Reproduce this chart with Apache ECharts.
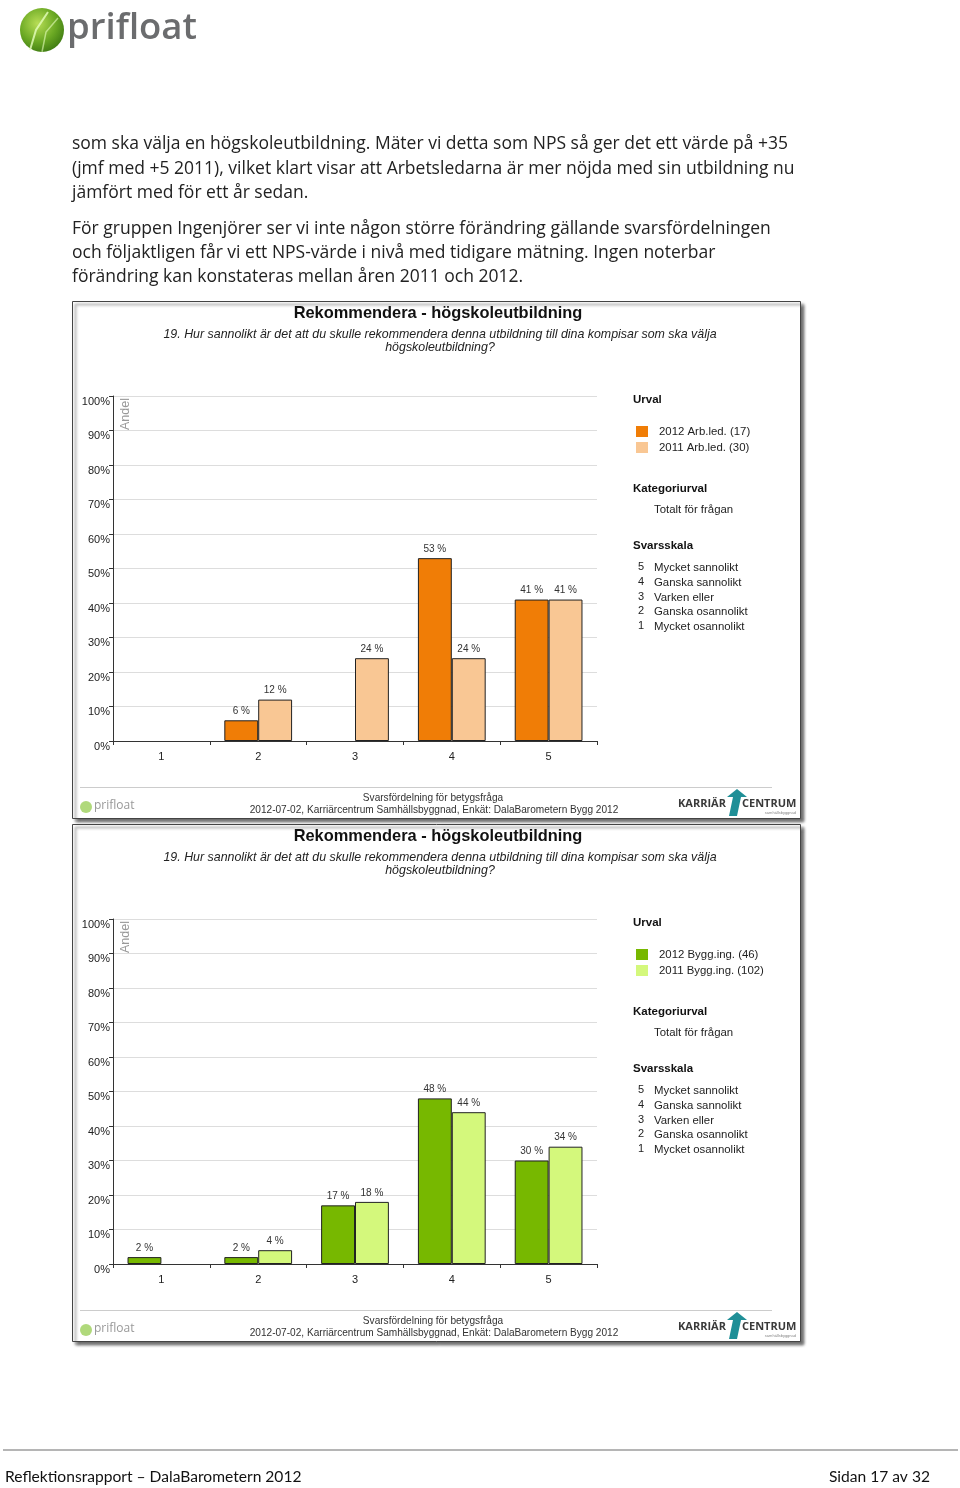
<!DOCTYPE html>
<html><head><meta charset="utf-8">
<script src="https://cdn.jsdelivr.net/npm/echarts@6/dist/echarts.min.js"></script>
<style>html,body{margin:0;padding:0;background:#fff}#c{width:960px;height:1488px}</style>
</head><body><div id="c"></div>
<script>
// ---- data ----
const categories = ['1','2','3','4','5'];
const yTicks = [0,10,20,30,40,50,60,70,80,90,100];
const chart1Name2012 = '2012 Arb.led. (17)';
const chart1Name2011 = '2011 Arb.led. (30)';
const chart1Values2012 = [null, 6, null, 53, 41];
const chart1Values2011 = [null, 12, 24, 24, 41];
const chart2Name2012 = '2012 Bygg.ing. (46)';
const chart2Name2011 = '2011 Bygg.ing. (102)';
const chart2Values2012 = [2, 2, 17, 48, 30];
const chart2Values2011 = [null, 4, 18, 44, 34];
const scaleLabels = [['5','Mycket sannolikt'],['4','Ganska sannolikt'],['3','Varken eller'],['2','Ganska osannolikt'],['1','Mycket osannolikt']];
const bodyLines = [
 'som ska välja en högskoleutbildning. Mäter vi detta som NPS så ger det ett värde på +35',
 '(jmf med +5 2011), vilket klart visar att Arbetsledarna är mer nöjda med sin utbildning nu',
 'jämfört med för ett år sedan.',
 'För gruppen Ingenjörer ser vi inte någon större förändring gällande svarsfördelningen',
 'och följaktligen får vi ett NPS-värde i nivå med tidigare mätning. Ingen noterbar',
 'förändring kan konstateras mellan åren 2011 och 2012.'
];
const chartTitle = 'Rekommendera - högskoleutbildning';
const chartSub1 = '19. Hur sannolikt är det att du skulle rekommendera denna utbildning till dina kompisar som ska välja';
const chartSub2 = 'högskoleutbildning?';
const footA = 'Svarsfördelning för betygsfråga';
const footB = '2012-07-02, Karriärcentrum Samhällsbyggnad, Enkät: DalaBarometern Bygg 2012';

// ---- helpers ----
const AR = '"Liberation Sans", Arial, sans-serif';
function T(text, x, y, size, opts) {
  opts = opts || {};
  return { type: 'text', z: opts.z || 5, rotation: opts.rotation || 0, x: x, y: y,
    style: { text: text, x: 0, y: 0, fill: opts.fill || '#222',
      font: (opts.style || '') + ' ' + (opts.weight || 'normal') + ' ' + size + 'px ' + (opts.family || AR),
      textAlign: opts.align || 'left', textVerticalAlign: 'middle' } };
}
const els = [];
// top logo
els.push({ type: 'circle', shape: { cx: 42, cy: 30, r: 22 }, z: 5,
  style: { fill: { type: 'radial', x: 0.4, y: 0.35, r: 0.7, colorStops: [{offset:0,color:'#b7dd55'},{offset:0.6,color:'#6aa823'},{offset:1,color:'#3d7a12'}] } } });
els.push({ type: 'polyline', z: 6, shape: { points: [[30,50],[36,30],[48,12]] }, style: { stroke: 'rgba(230,255,190,0.8)', lineWidth: 2, fill: null } });
els.push({ type: 'polyline', z: 6, shape: { points: [[42,52],[46,32],[58,18]] }, style: { stroke: 'rgba(230,255,190,0.6)', lineWidth: 1.5, fill: null } });
els.push(T('prifloat', 67, 29, 36.5, { fill: '#6b6c6e', weight: '600', family: '"Open Sans", sans-serif' }));
// body text
const bodyY = [144, 169, 193, 229, 253, 277];
bodyLines.forEach((l, i) => els.push(T(l, 72, bodyY[i], 17.5, { fill: '#222', family: '"Open Sans", sans-serif' })));

function panel(top, name12, name11, c12, c11) {
  els.push({ type: 'rect', z: -10, shape: { x: 72.5, y: top + 0.5, width: 728, height: 517 },
    style: { fill: '#fff', stroke: '#444', lineWidth: 1, shadowBlur: 3, shadowOffsetX: 3, shadowOffsetY: 3, shadowColor: 'rgba(0,0,0,0.6)' } });
  els.push(T(chartTitle, 438, top + 12, 16.4, { weight: 'bold', align: 'center', fill: '#111' }));
  els.push(T(chartSub1, 440, top + 34, 12.4, { style: 'italic', align: 'center', fill: '#222' }));
  els.push(T(chartSub2, 440, top + 47, 12.4, { style: 'italic', align: 'center', fill: '#222' }));
  // Andel
  els.push(T('Andel', 126, top + 113, 12.5, { rotation: Math.PI / 2, align: 'center', fill: '#999' }));
  // legend
  els.push(T('Urval', 633, top + 99, 11.5, { weight: 'bold', fill: '#111' }));
  els.push({ type: 'rect', z: 5, shape: { x: 636, y: top + 125, width: 12, height: 11 }, style: { fill: c12 } });
  els.push({ type: 'rect', z: 5, shape: { x: 636, y: top + 141, width: 12, height: 11 }, style: { fill: c11 } });
  els.push(T(name12, 659, top + 131, 11.4, { fill: '#222' }));
  els.push(T(name11, 659, top + 147, 11.4, { fill: '#222' }));
  els.push(T('Kategoriurval', 633, top + 188, 11.5, { weight: 'bold', fill: '#111' }));
  els.push(T('Totalt för frågan', 654, top + 209, 11.4, { fill: '#222' }));
  els.push(T('Svarsskala', 633, top + 245, 11.5, { weight: 'bold', fill: '#111' }));
  scaleLabels.forEach((s, i) => {
    els.push(T(s[0], 638, top + 266 + i * 14.75, 11, { fill: '#222' }));
    els.push(T(s[1], 654, top + 267 + i * 14.75, 11.4, { fill: '#222' }));
  });
  // footer
  els.push({ type: 'line', z: 5, shape: { x1: 80, y1: top + 486.5, x2: 772, y2: top + 486.5 }, style: { stroke: '#ccc', lineWidth: 1 } });
  els.push(T(footA, 433, top + 497, 10.1, { align: 'center', fill: '#333' }));
  els.push(T(footB, 434, top + 509, 10.1, { align: 'center', fill: '#333' }));
  els.push({ type: 'circle', z: 5, shape: { cx: 86, cy: top + 506, r: 6 }, style: { fill: '#9ccf5a', opacity: 0.8 } });
  els.push(T('prifloat', 94, top + 505, 12, { fill: '#999', family: '"Open Sans", sans-serif' }));
  els.push(T('KARRIÄR', 678, top + 503, 11, { weight: 'bold', fill: '#3a3a3a', family: '"Open Sans", sans-serif' }));
  els.push({ type: 'polygon', z: 5, shape: { points: [[729, top + 515], [733, top + 496], [727, top + 496], [737, top + 488], [747, top + 496], [741, top + 496], [737, top + 515]] }, style: { fill: '#1f8f97' } });
  els.push(T('CENTRUM', 742, top + 503, 11, { weight: 'bold', fill: '#3a3a3a', family: '"Open Sans", sans-serif' }));
  els.push(T('samhällsbyggnad', 796, top + 512, 4, { align: 'right', fill: '#888' }));
}
panel(301, chart1Name2012, chart1Name2011, '#F07D06', '#F9C794');
panel(824, chart2Name2012, chart2Name2011, '#77B800', '#D4F87C');

// page footer
els.push({ type: 'line', z: 5, shape: { x1: 3, y1: 1450, x2: 958, y2: 1450 }, style: { stroke: '#b5b5b5', lineWidth: 2 } });
els.push(T('Reflektionsrapport – DalaBarometern 2012', 5, 1477, 15.6, { fill: '#111', family: 'Lato, sans-serif' }));
els.push(T('Sidan 17 av 32', 930, 1477, 15.6, { align: 'right', fill: '#111', family: 'Lato, sans-serif' }));

function xAx(i) {
  return { type: 'category', gridIndex: i, data: categories,
    axisLine: { lineStyle: { color: '#333', width: 1 } },
    axisTick: { show: true, length: 4, lineStyle: { color: '#333' } },
    axisLabel: { fontSize: 11, color: '#222', margin: 10, fontFamily: AR } };
}
function yAx(i) {
  return { type: 'value', gridIndex: i, min: yTicks[0], max: yTicks[yTicks.length - 1], interval: yTicks[1] - yTicks[0],
    axisLine: { show: true, lineStyle: { color: '#333', width: 1 } },
    axisTick: { show: true, length: 4, lineStyle: { color: '#333' } },
    splitLine: { lineStyle: { color: '#ddd', width: 1 } },
    axisLabel: { formatter: '{value}%', fontSize: 11, color: '#222', margin: 3, verticalAlign: 'top', fontFamily: AR } };
}
function bar(name, data, i, color) {
  return { type: 'bar', name: name, data: data, xAxisIndex: i, yAxisIndex: i,
    barGap: '0%', barCategoryGap: '30%',
    itemStyle: { color: color, borderColor: '#222', borderWidth: 1 },
    label: { show: true, position: 'top', distance: 4, formatter: '{c} %', fontSize: 10, color: '#333', fontFamily: AR } };
}
const chart = echarts.init(document.getElementById('c'));
chart.setOption({
  animation: false,
  backgroundColor: '#fff',
  grid: [
    { left: 113, top: 396, width: 484, height: 345 },
    { left: 113, top: 919, width: 484, height: 345 }
  ],
  xAxis: [xAx(0), xAx(1)],
  yAxis: [yAx(0), yAx(1)],
  series: [
    bar(chart1Name2012, chart1Values2012, 0, '#F07D06'),
    bar(chart1Name2011, chart1Values2011, 0, '#F9C794'),
    bar(chart2Name2012, chart2Values2012, 1, '#77B800'),
    bar(chart2Name2011, chart2Values2011, 1, '#D4F87C')
  ],
  graphic: { elements: els }
});
</script></body></html>
